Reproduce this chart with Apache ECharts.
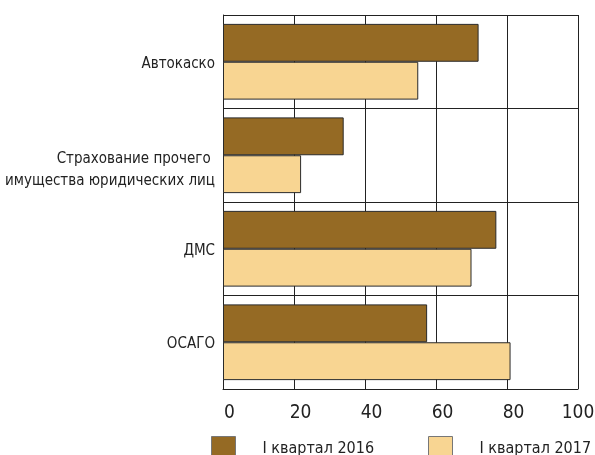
<!DOCTYPE html>
<html>
<head>
<meta charset="utf-8">
<script src="https://cdn.jsdelivr.net/npm/echarts@6/dist/echarts.min.js"></script>
<style>
  html, body { margin: 0; padding: 0; background: #fff; }
  #chart { width: 595px; height: 455px; }
</style>
</head>
<body>
<div id="chart"></div>
<script>
const categories = ['Автокаско', 'Страхование прочего \nимущества юридических лиц', 'ДМС', 'ОСАГО']
const seriesNames = ['I квартал 2016', 'I квартал 2017']
const values2016 = [72, 34, 77, 57.5]
const values2017 = [55, 22, 70, 81]
const xTicks = [0, 20, 40, 60, 80, 100]

const font = '"DejaVu Sans Condensed", "Liberation Sans Narrow", sans-serif'
const colors = ['#956a24', '#f8d592']

const legendBox = (name, left) => ({
  data: [name],
  left: left, top: 431,
  itemWidth: 24, itemHeight: 24,
  icon: 'rect',
  itemStyle: { borderColor: '#777', borderWidth: 1 },
  textStyle: { fontFamily: font, fontSize: 16, color: '#222', padding: [0, 0, 0, 22] }
})

const chart = echarts.init(document.getElementById('chart'))
chart.setOption({
  animation: false,
  color: colors,
  grid: { left: 223, right: 17, top: 15, bottom: 66, outerBoundsMode: 'none' },
  legend: [legendBox(seriesNames[0], 206), legendBox(seriesNames[1], 423)],
  xAxis: {
    type: 'value',
    min: xTicks[0],
    max: xTicks[xTicks.length - 1],
    interval: 20,
    axisLine: { show: true, lineStyle: { color: '#222' } },
    axisTick: { show: false },
    axisLabel: {
      fontFamily: font, fontSize: 19, color: '#222', margin: 15,
      formatter: v => v === xTicks[xTicks.length - 1] ? '{e|' + v + '}' : '{s|' + v + '}',
      rich: {
        s: { fontFamily: font, fontSize: 19, color: '#222', padding: [0, 0, 0, 13] },
        e: { fontFamily: font, fontSize: 19, color: '#222' }
      }
    },
    splitLine: { show: true, lineStyle: { color: '#222', width: 1 } }
  },
  yAxis: {
    type: 'category',
    inverse: true,
    data: categories,
    axisLine: { show: true, lineStyle: { color: '#222' } },
    axisTick: { show: false },
    axisLabel: {
      fontFamily: font, fontSize: 15, color: '#222', margin: 8, lineHeight: 22, align: 'right',
      // an empty spacer line pushes the label a bit below the category centre, as in the original
      formatter: (v, i) => (i === 1 ? '{big| }' : '{small| }') + '\n' + v,
      rich: {
        big: { fontSize: 1, lineHeight: 30 },
        small: { fontSize: 1, lineHeight: 4 }
      }
    },
    splitLine: { show: true, lineStyle: { color: '#222', width: 1 } }
  },
  series: [
    {
      name: seriesNames[0],
      type: 'bar',
      data: values2016,
      barGap: '0%',
      barCategoryGap: '19%',
      itemStyle: { borderColor: '#2a2a2a', borderWidth: 1 }
    },
    {
      name: seriesNames[1],
      type: 'bar',
      data: values2017,
      itemStyle: { borderColor: '#2a2a2a', borderWidth: 1 }
    }
  ]
})
</script>
</body>
</html>
